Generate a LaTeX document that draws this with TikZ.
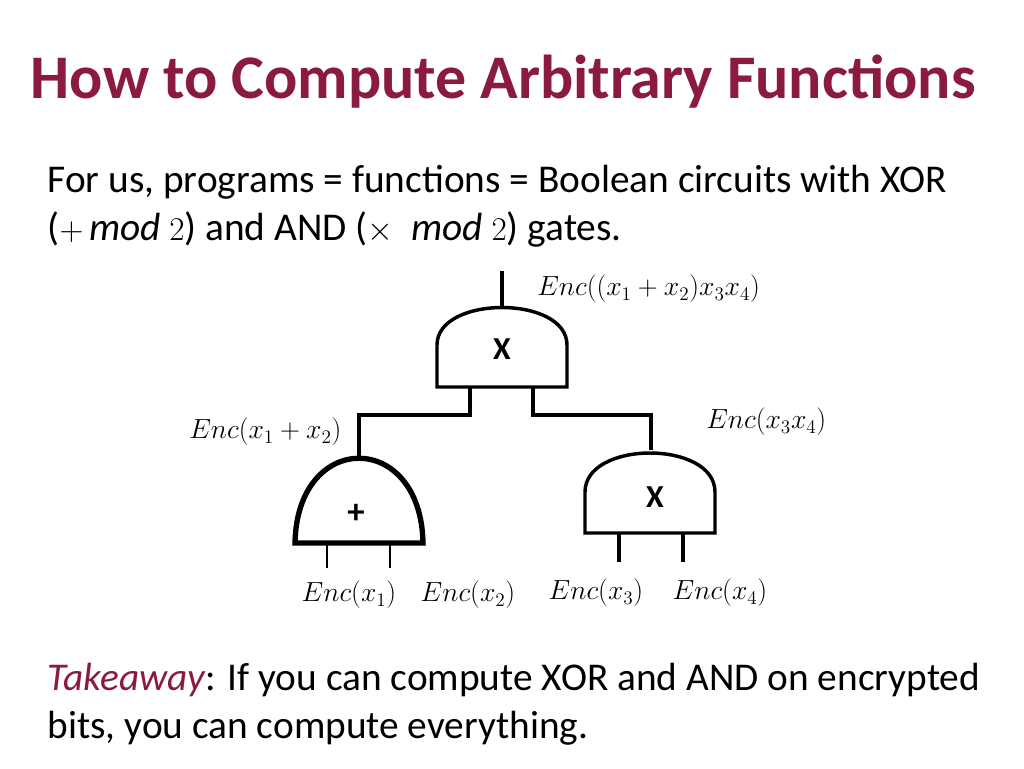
\documentclass[tikz,border=0pt]{standalone}
\usepackage{fontspec}
\setmainfont{Carlito}
\definecolor{titlec}{HTML}{8B1A42}
\begin{document}
\begin{tikzpicture}[x=0.75pt,y=-0.75pt,
  gate/.style={line width=2.6pt},
  wire/.style={line width=2.8pt},
  lbl/.style={inner sep=0pt,font=\fontsize{21.5}{24}\selectfont}]
\useasboundingbox (0,0) rectangle (1024,768);
\node[anchor=west,text=titlec,font=\fontsize{46.5}{50}\selectfont\bfseries] (title) at (26,82) {How to Compute Arbitrary Functions};
\node[anchor=north west,align=left,font=\fontsize{29.5}{36}\selectfont] (intro) at (43,160) {For us, programs = functions = Boolean circuits with XOR\\($+\,\mathit{mod}\ 2$) and AND ($\times\ \ \mathit{mod}\ 2$) gates.};
% top AND gate
\draw[gate] (437,387) -- (437,345) .. controls (437,295) and (567,295) .. (567,345) -- (567,387) -- cycle;
\node[font=\fontsize{24}{28}\selectfont\bfseries] (g1) at (502,349) {X};
\coordinate (g1out) at (502,306);
\coordinate (out) at (502,271);
\draw[wire] (g1out) -- (out);
% plus gate
\draw[line width=4pt] (295,543) .. controls (297,430) and (421,430) .. (423,543) -- cycle;
\node[font=\fontsize{26}{28}\selectfont\bfseries] (g2) at (356,514) {+};
% right AND gate
\draw[gate] (585,533) -- (585,492) .. controls (585,440) and (715,440) .. (715,492) -- (715,533) -- cycle;
\node[font=\fontsize{24}{28}\selectfont\bfseries] (g3) at (655,497) {X};
% wires
\coordinate (a1) at (470,388); \coordinate (a2) at (533,388);
\coordinate (p) at (359,458); \coordinate (q) at (651,450);
\draw[wire] (a1) -- (470,415) -- (359,415) -- (p);
\draw[wire] (a2) -- (533,415) -- (651,415) -- (q);
\foreach \x/\n in {327/b1,390/b2} \draw[line width=1.8pt] (\x,545) -- (\x,568);
\foreach \x/\n in {619/c1,683/c2} \draw[wire] (\x,534) -- (\x,562);
% labels
\node[lbl,anchor=west] (L0) at (537,289) {$Enc((x_1+x_2)x_3x_4)$};
\node[lbl,anchor=west] (L1) at (189,432) {$Enc(x_1+x_2)$};
\node[lbl,anchor=west] (L2) at (706,422) {$Enc(x_3x_4)$};
\node[lbl] (L3) at (349,595) {$Enc(x_1)$};
\node[lbl] (L4) at (468,595) {$Enc(x_2)$};
\node[lbl] (L5) at (596,593) {$Enc(x_3)$};
\node[lbl] (L6) at (720,593) {$Enc(x_4)$};
\node[anchor=north west,align=left,font=\fontsize{29.5}{36}\selectfont] (take) at (43,658) {{\color{titlec}\itshape Takeaway}: If you can compute XOR and AND on encrypted\\bits, you can compute everything.};
\end{tikzpicture}
\end{document}
